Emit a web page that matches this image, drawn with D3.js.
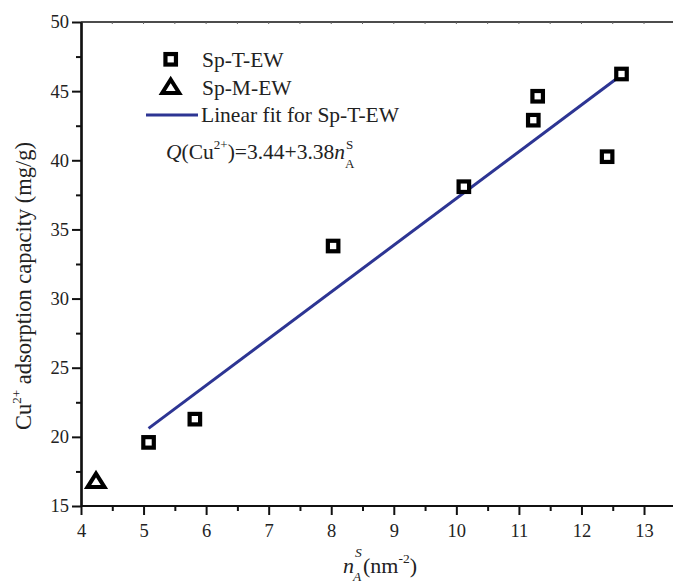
<!DOCTYPE html>
<html><head><meta charset="utf-8">
<script src="https://cdn.jsdelivr.net/npm/d3@7"></script>
<style>body{margin:0;background:#fff}svg{display:block}</style>
</head><body>
<svg id="c" width="673" height="583"></svg>
<script>
const spT_x = [5.08, 5.82, 8.03, 10.12, 11.23, 11.30, 12.41, 12.64];
const spT_y = [19.6, 21.28, 33.8, 38.09, 42.9, 44.63, 40.26, 46.24];
const spM_x = [4.24];
const spM_y = [16.8];
const fitIntercept = 3.44, fitSlope = 3.38;
const fitRange = [5.08, 12.64];
const xTicks = [4,5,6,7,8,9,10,11,12,13];
const yTicks = [15,20,25,30,35,40,45,50];
const legendLabels = ["Sp-T-EW","Sp-M-EW","Linear fit for Sp-T-EW"];

const FONT = "'Liberation Serif', 'Times New Roman', 'DejaVu Serif', serif";
const svg = d3.select("#c");
const x = d3.scaleLinear().domain([4,13.5]).range([81,675.3]);
const y = d3.scaleLinear().domain([15,50]).range([506,22]);
const blue = "#2d3593";

svg.append("line").attr("x1",x(4)).attr("x2",673).attr("y1",y(50)).attr("y2",y(50)).attr("stroke","#111").attr("stroke-width",1.5);
svg.append("g").selectAll("line").data(d3.range(4.5,13.5,0.5)).join("line")
  .attr("x1",d=>x(d)).attr("x2",d=>x(d)).attr("y1",y(50)).attr("y2",y(50)+2).attr("stroke","#666").attr("stroke-width",1);

const gx = svg.append("g").attr("transform",`translate(0,${y(15)})`);
gx.call(d3.axisBottom(x).tickValues(xTicks).tickFormat(d3.format("d")).tickSize(9).tickSizeOuter(0));
gx.append("g").call(d3.axisBottom(x).tickValues(d3.range(4.5,13.5,1)).tickFormat("").tickSize(5).tickSizeOuter(0));
gx.selectAll("path.domain").attr("stroke","#111").attr("stroke-width",2.2).attr("d",`M${x(4)},0H673`);
gx.selectAll(".tick line").attr("stroke","#111").attr("stroke-width",2);
gx.selectAll(".tick text").attr("font-size",18.5).attr("dy","0.75em").attr("y",17);

const gy = svg.append("g").attr("transform",`translate(${x(4)},0)`);
gy.call(d3.axisLeft(y).tickValues(yTicks).tickFormat(d3.format("d")).tickSize(9).tickSizeOuter(0));
gy.append("g").call(d3.axisLeft(y).tickValues(d3.range(17.5,50,5)).tickFormat("").tickSize(5).tickSizeOuter(0));
gy.selectAll("path.domain").attr("stroke","#111").attr("stroke-width",2.2);
gy.selectAll(".tick line").attr("stroke","#111").attr("stroke-width",2);
gy.selectAll(".tick text").attr("font-size",18.5).attr("x",-12);

svg.append("line")
  .attr("x1",x(fitRange[0])).attr("y1",y(fitIntercept+fitSlope*fitRange[0]))
  .attr("x2",x(fitRange[1])).attr("y2",y(fitIntercept+fitSlope*fitRange[1]))
  .attr("stroke",blue).attr("stroke-width",3);

const sq = 10.5;
svg.append("g").selectAll("rect").data(spT_x.map((d,i)=>[d,spT_y[i]])).join("rect")
  .attr("x",d=>x(d[0])-sq/2).attr("y",d=>y(d[1])-sq/2).attr("width",sq).attr("height",sq)
  .attr("fill","#fff").attr("stroke","#000").attr("stroke-width",4.2);

const tri = (cx,cy)=>`M${cx},${cy-7.5}L${cx+8.5},${cy+6}L${cx-8.5},${cy+6}Z`;
svg.append("g").selectAll("path").data(spM_x.map((d,i)=>[d,spM_y[i]])).join("path")
  .attr("d",d=>tri(x(d[0]),y(d[1])))
  .attr("fill","#fff").attr("stroke","#000").attr("stroke-width",4);

const lg = svg.append("g");
lg.append("rect").attr("x",170.7-sq/2).attr("y",59.3-sq/2).attr("width",sq).attr("height",sq)
  .attr("fill","#fff").attr("stroke","#000").attr("stroke-width",4.2);
lg.append("path").attr("d",tri(170.7,87)).attr("fill","#fff").attr("stroke","#000").attr("stroke-width",4);
lg.append("line").attr("x1",146).attr("x2",198).attr("y1",115).attr("y2",115).attr("stroke",blue).attr("stroke-width",3);
const ly = [67, 94.5, 122];
const lx = [202, 202, 201];
legendLabels.forEach((t,i)=>lg.append("text").attr("x",lx[i]).attr("y",ly[i]).attr("font-size",21.5).text(t));

const eq = svg.append("text").attr("x",166).attr("y",159).attr("font-size",21.5).attr("font-family",FONT);
eq.append("tspan").attr("font-style","italic").text("Q");
eq.append("tspan").text("(Cu");
eq.append("tspan").attr("font-size",13).attr("dy",-10).text("2+");
eq.append("tspan").attr("dy",10).text(")=3.44+3.38");
eq.append("tspan").attr("font-style","italic").text("n");
const eqEnd = eq.node().getComputedTextLength();
svg.append("text").attr("x",166+eqEnd+1).attr("y",149).attr("font-size",13).text("S");
svg.append("text").attr("x",166+eqEnd).attr("y",168).attr("font-size",13).text("A");

const ylab = svg.append("text").attr("transform","translate(31,286) rotate(-90)").attr("text-anchor","middle").attr("font-size",22.5);
ylab.append("tspan").text("Cu");
ylab.append("tspan").attr("font-size",13).attr("dy",-10).text("2+");
ylab.append("tspan").attr("dy",10).text("  adsorption capacity (mg/g)");

const xl = svg.append("g");
xl.append("text").attr("x",343).attr("y",573).attr("font-size",22).attr("font-style","italic").text("n");
xl.append("text").attr("x",355).attr("y",557).attr("font-size",13.5).attr("font-style","italic").text("S");
xl.append("text").attr("x",353).attr("y",581).attr("font-size",13.5).attr("font-style","italic").text("A");
const xr = xl.append("text").attr("x",363).attr("y",573).attr("font-size",22);
xr.append("tspan").text("(nm");
xr.append("tspan").attr("font-size",13.5).attr("dy",-10).text("-2");
xr.append("tspan").attr("dy",10).text(")");

svg.selectAll("text").style("font-family",FONT).style("fill","#222");
svg.selectAll("g").attr("font-family",null);
</script>
</body></html>
